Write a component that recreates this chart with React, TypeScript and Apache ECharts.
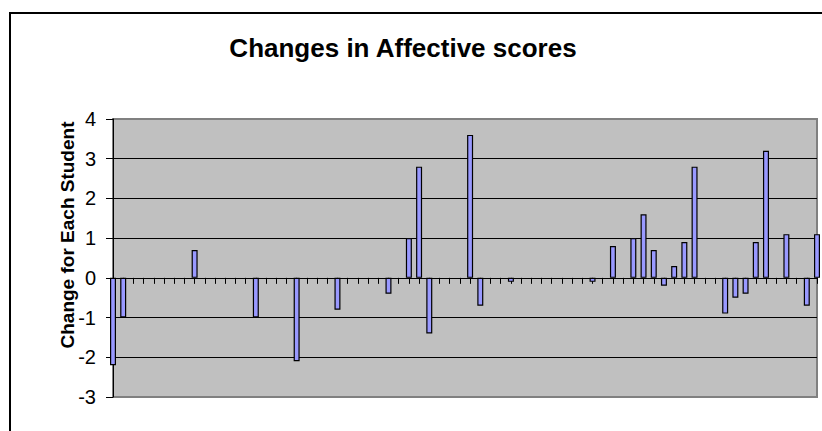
import React, { useEffect, useRef } from "react";
import * as echarts from "echarts";

// Change in affective score for each student, in student order
const scoreChanges: number[] = [
  -2.2, -1.0, 0, 0, 0, 0, 0, 0, 0.7, 0,
  0, 0, 0, 0, -1.0, 0, 0, 0, -2.1, 0,
  0, 0, -0.8, 0, 0, 0, 0, -0.4, 0, 1.0,
  2.8, -1.4, 0, 0, 0, 3.6, -0.7, 0, 0, -0.1,
  0, 0, 0, 0, 0, 0, 0, -0.1, 0, 0.8,
  0, 1.0, 1.6, 0.7, -0.2, 0.3, 0.9, 2.8, 0, 0,
  -0.9, -0.5, -0.4, 0.9, 3.2, 0, 1.1, 0, -0.7, 1.1,
];

// One category per student
const students: string[] = scoreChanges.map((_, i) => String(i + 1));

const chartTitle = "Changes in Affective scores";
const yAxisTitle = "Change for Each Student";

const FONT = "Arial, 'Liberation Sans', Helvetica, sans-serif";

export default function App() {
  const ref = useRef<HTMLDivElement>(null);

  useEffect(() => {
    if (!ref.current) return;
    const chart = echarts.init(ref.current, null, { renderer: "svg" });

    // Students with no change get no outline, so the zero line stays thin
    const barData = scoreChanges.map((v) =>
      v === 0 ? { value: v, itemStyle: { borderWidth: 0 } } : v
    );

    chart.setOption({
      animation: false,
      backgroundColor: "#ffffff",
      title: {
        text: chartTitle,
        left: 398,
        textAlign: "center",
        top: 30,
        textStyle: {
          fontFamily: FONT,
          fontSize: 26,
          fontWeight: "bold",
          color: "#000",
        },
      },
      graphic: [
        {
          type: "rect",
          shape: { x: 10, y: 13, width: 1000, height: 1000 },
          style: { fill: "none", stroke: "#000", lineWidth: 2 },
          silent: true,
        },
        {
          type: "text",
          x: 67,
          y: 235,
          rotation: Math.PI / 2,
          style: {
            text: yAxisTitle,
            fontFamily: FONT,
            fontSize: 19,
            fontWeight: "bold",
            fill: "#000",
            align: "center",
            verticalAlign: "middle",
          },
        },
      ],
      grid: {
        left: 113,
        top: 119,
        width: 704,
        height: 278,
        show: true,
        backgroundColor: "#C0C0C0",
        borderColor: "#808080",
        borderWidth: 2,
      },
      xAxis: {
        type: "category",
        data: students,
        boundaryGap: false,
        axisLine: { onZero: true, lineStyle: { color: "#000", width: 1 } },
        axisTick: { show: true, interval: 0, length: 6, lineStyle: { color: "#000" } },
        axisLabel: { show: false },
        splitLine: { show: false },
      },
      yAxis: {
        type: "value",
        min: -3,
        max: 4,
        interval: 1,
        axisLine: { show: true, lineStyle: { color: "#000", width: 1 } },
        axisTick: { show: true, length: 7, lineStyle: { color: "#000" } },
        axisLabel: {
          fontFamily: FONT,
          fontSize: 20,
          color: "#000",
          margin: 17,
        },
        splitLine: {
          show: true,
          showMinLine: false,
          showMaxLine: false,
          lineStyle: { color: "#000", width: 1 },
        },
      },
      series: [
        {
          type: "bar",
          data: barData,
          barWidth: 6,
          clip: false,
          itemStyle: {
            color: "#9999FF",
            borderColor: "#000",
            borderWidth: 1.2,
          },
        },
      ],
    });
    return () => chart.dispose();
  }, []);

  return (
    <div
      ref={ref}
      style={{ position: "fixed", left: 0, top: 0, width: 822, height: 431, background: "#fff" }}
    />
  );
}
